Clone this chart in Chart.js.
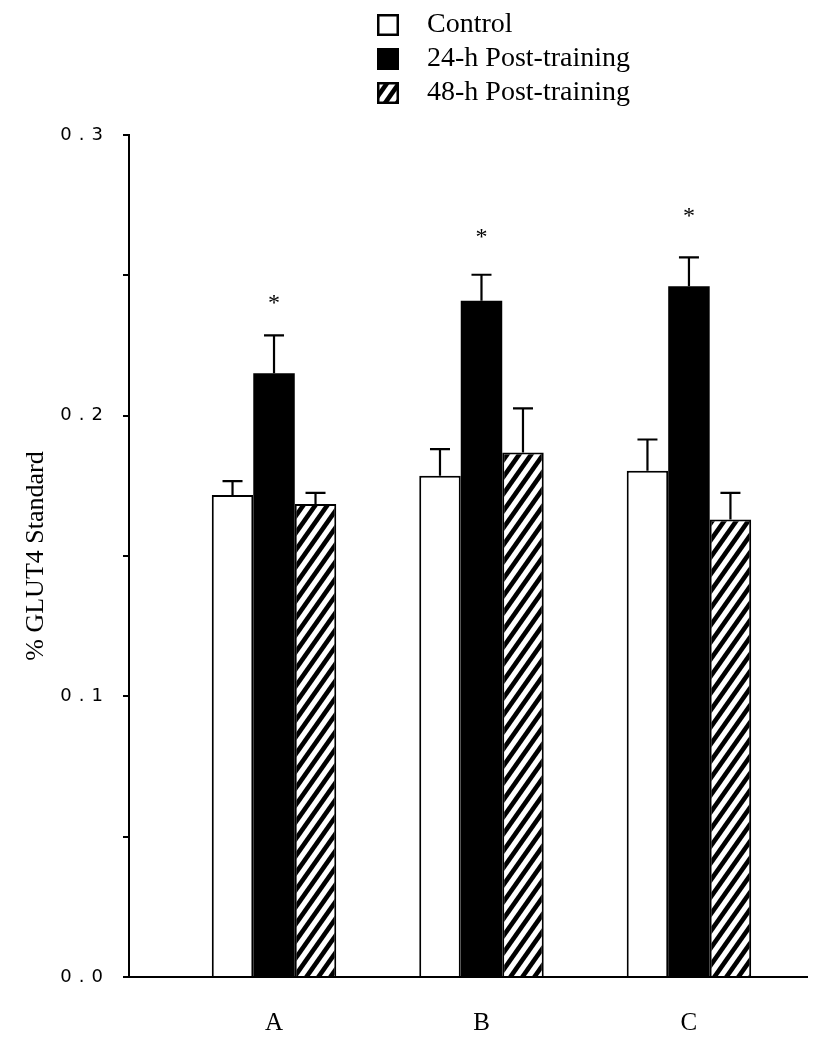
<!DOCTYPE html>
<html><head><meta charset="utf-8">
<script src="https://cdn.jsdelivr.net/npm/chart.js@4.4.1/dist/chart.umd.min.js"></script>
<style>html,body{margin:0;padding:0;background:#fff;}#wrap{width:814px;height:1050px;}</style>
</head><body><div id="wrap"><canvas id="c" width="814" height="1050"></canvas></div>
<script>
// ---- data ----
const categories = ['A', 'B', 'C'];
const seriesNames = ['Control', '24-h Post-training', '48-h Post-training'];
const controlValues = [0.1717, 0.1786, 0.1804];
const controlErrors = [0.0050, 0.0095, 0.0111];
const post24Values = [0.2151, 0.2409, 0.2461];
const post24Errors = [0.0135, 0.0093, 0.0103];
const post48Values = [0.1685, 0.1869, 0.1630];
const post48Errors = [0.0040, 0.0157, 0.0095];
const significanceMarks = [0.2412, 0.2647, 0.2722]; // '*' above the 24-h bars
const yTicks = [0, 0.05, 0.1, 0.15, 0.2, 0.25, 0.3];
const yTickLabels = ['0.0', '', '0.1', '', '0.2', '', '0.3'];
const yTitle = '% GLUT4 Standard';

// ---- styling helpers ----
const canvas = document.getElementById('c');
const mainCtx = canvas.getContext('2d');

function hatchTile() {
  const w = 12, h = 17;
  const c = document.createElement('canvas');
  c.width = w; c.height = h;
  const g = c.getContext('2d');
  g.fillStyle = '#fff'; g.fillRect(0, 0, w, h);
  g.strokeStyle = '#000'; g.lineWidth = 4.6;
  for (const dx of [-w, 0, w]) {
    g.beginPath(); g.moveTo(dx - w, 2 * h); g.lineTo(dx + 2 * w, -h); g.stroke();
  }
  return c;
}
const hatchPattern = mainCtx.createPattern(hatchTile(), 'repeat');

const ICON_W = 407, ICON_H = 28;
function legendIcon(kind) {
  const c = document.createElement('canvas');
  c.width = ICON_W; c.height = ICON_H;
  const g = c.getContext('2d');
  const x0 = 371, y0 = 3, s = 22;
  if (kind === 0) { g.fillStyle = '#fff'; }
  else if (kind === 1) { g.fillStyle = '#000'; }
  else { g.fillStyle = g.createPattern(hatchTile(), 'repeat'); }
  g.fillRect(x0, y0, s, s);
  g.strokeStyle = '#000'; g.lineWidth = 2.5;
  g.strokeRect(x0 + 1.25, y0 + 1.25, s - 2.5, s - 2.5);
  return c;
}
const legendIcons = [legendIcon(0), legendIcon(1), legendIcon(2)];

function points(values) { return values.map((v, i) => ({ x: i + 1, y: v })); }

const errorBarPlugin = {
  id: 'errorBars',
  afterDatasetsDraw(chart) {
    const ctx = chart.ctx, ys = chart.scales.y;
    ctx.save();
    ctx.strokeStyle = '#000';
    ctx.lineWidth = 2.2;
    chart.data.datasets.forEach((ds, di) => {
      const meta = chart.getDatasetMeta(di);
      meta.data.forEach((bar, i) => {
        const v = ds.data[i].y, e = ds.errorBars[i];
        const yTop = ys.getPixelForValue(v + e);
        const yBar = ys.getPixelForValue(v);
        ctx.beginPath();
        ctx.moveTo(bar.x, yBar); ctx.lineTo(bar.x, yTop);
        ctx.moveTo(bar.x - 10, yTop); ctx.lineTo(bar.x + 10, yTop);
        ctx.stroke();
      });
    });
    // significance asterisks above the 24-h bars
    const meta24 = chart.getDatasetMeta(1);
    ctx.fillStyle = '#000';
    ctx.font = '24px "Liberation Serif"';
    ctx.textAlign = 'center';
    ctx.textBaseline = 'middle';
    significanceMarks.forEach((v, i) => {
      const bar = meta24.data[i];
      ctx.fillText('*', bar.x, ys.getPixelForValue(v) + 4);
    });
    ctx.restore();
  }
};

const layoutTweaks = {
  id: 'layoutTweaks',
  beforeLayout(chart) {
    const lg = chart.legend;
    if (lg && !lg._gapPatched) {
      const f = lg.fit;
      lg.fit = function () { f.call(this); this.height += 18; };
      lg._gapPatched = true;
    }
  },
  beforeDraw(chart) {
    const ys = chart.scales.y;
    if (ys && !ys._lsPatched) {
      const orig = ys.drawLabels;
      ys.drawLabels = function (ca) {
        const c = this.ctx; c.save(); c.letterSpacing = '7px'; orig.call(this, ca); c.restore();
      };
      ys._lsPatched = true;
    }
  }
};

new Chart(canvas, {
  type: 'bar',
  data: {
    datasets: [
      { label: seriesNames[0], data: points(controlValues), errorBars: controlErrors,
        backgroundColor: '#fff', borderColor: '#000', borderWidth: 2 },
      { label: seriesNames[1], data: points(post24Values), errorBars: post24Errors,
        backgroundColor: '#000', borderColor: '#000', borderWidth: 0 },
      { label: seriesNames[2], data: points(post48Values), errorBars: post48Errors,
        backgroundColor: hatchPattern, borderColor: '#000', borderWidth: 2 }
    ]
  },
  options: {
    responsive: false,
    animation: false,
    devicePixelRatio: 1,
    categoryPercentage: 0.6,
    barPercentage: 1.0,
    layout: { padding: { top: 5, right: 7, bottom: 0, left: 0 } },
    plugins: {
      tooltip: { enabled: false },
      legend: {
        position: 'top',
        align: 'start',
        labels: {
          usePointStyle: true,
          pointStyleWidth: ICON_W,
          boxHeight: 28,
          padding: 6,
          color: '#000',
          font: { family: 'Liberation Serif', size: 28 },
          generateLabels(chart) {
            const items = Chart.defaults.plugins.legend.labels.generateLabels(chart);
            items.forEach((it, i) => { it.pointStyle = legendIcons[i]; });
            return items;
          }
        }
      }
    },
    scales: {
      x: {
        type: 'linear',
        min: 0.301,
        max: 3.569,
        offset: false,
        grid: { display: false, drawTicks: false },
        border: { display: true, color: '#000', width: 2 },
        afterBuildTicks: s => { s.ticks = categories.map((c, i) => ({ value: i + 1 })); },
        ticks: {
          callback: v => categories[Math.round(v) - 1] ?? '',
          font: { family: 'Liberation Serif', size: 25 },
          color: '#000', padding: 31, maxRotation: 0, autoSkip: false
        },
        afterFit: s => { s.height = 73; }
      },
      y: {
        min: 0,
        max: 0.3,
        afterBuildTicks: s => { s.ticks = yTicks.map(v => ({ value: v })); },
        ticks: {
          callback: (v, i) => yTickLabels[i],
          font: { family: 'DejaVu Sans', size: 18 },
          color: '#000', padding: 13, autoSkip: false
        },
        grid: { display: true, drawOnChartArea: false, drawTicks: true, tickLength: 6, color: '#000', lineWidth: 2 },
        border: { display: true, color: '#000', width: 2 },
        title: {
          display: true, text: yTitle, color: '#000',
          font: { family: 'Liberation Serif', size: 26 },
          padding: { top: 21, bottom: 0 }
        },
        afterFit: s => { s.width = 129; }
      }
    }
  },
  plugins: [errorBarPlugin, layoutTweaks]
});
</script></body></html>
